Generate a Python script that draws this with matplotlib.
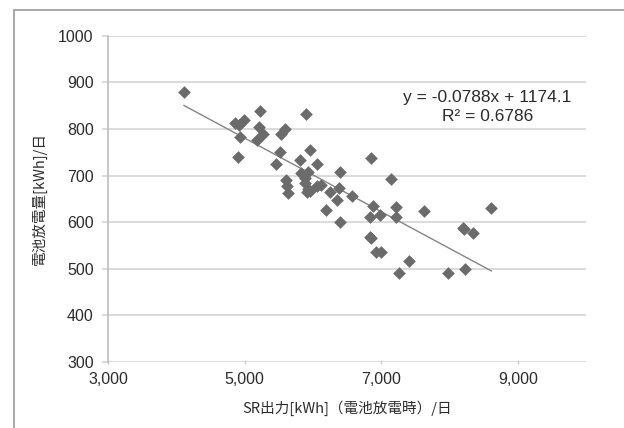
import matplotlib.pyplot as plt
import numpy as np
from matplotlib.patches import Rectangle

# SR output (kWh/day, during battery discharge) vs battery discharge (kWh/day)
sr_output = [
	4110, 4860, 4920, 4990, 4927, 4907,
	5220, 5209, 5268, 5180, 5537, 5585, 5512, 5453,
	5610, 5625, 5634, 5903, 5951, 5815, 6063,
	5829, 5878, 5926, 5878, 5926, 5912, 5960,
	6063, 6122, 6244, 6400, 6375, 6351, 6195, 6400,
	6576, 6843, 6877, 6839, 6975, 7146, 7219, 7209,
	6829, 6850, 6927, 7000, 7253, 7411, 7633, 7983,
	8199, 8210, 8234, 8345, 8614,
]
discharge = [
	880, 813, 808, 820, 783, 740,
	838, 805, 790, 776, 790, 799, 751, 725,
	690, 677, 663, 833, 755, 733, 724,
	705, 694, 708, 683, 672, 665, 667,
	677, 680, 665, 708, 673, 647, 626, 601,
	656, 738, 635, 612, 615, 692, 632, 612,
	569, 566, 537, 537, 491, 516, 624, 490,
	588, 585, 500, 576, 631,
]
slope = -0.0788
intercept = 1174.1
r_squared = 0.6786

x_ticks = [3000, 5000, 7000, 9000]
y_ticks = [300, 400, 500, 600, 700, 800, 900, 1000]

jp_font = ["Noto Sans CJK JP", "DejaVu Sans"]
num_font = ["Liberation Sans", "DejaVu Sans"]
text_color = "#2b2b2b"

fig = plt.figure(figsize=(6.24, 4.28), dpi=100)
fig.patch.set_facecolor("white")
ax = fig.add_axes([0.1736, 0.1542, 0.7654, 0.7624])

ax.scatter(sr_output, discharge, marker="D", s=42, color="#6b6b6b", linewidths=0, zorder=3)

x_fit = np.array([min(sr_output), max(sr_output)])
ax.plot(x_fit, slope * x_fit + intercept, color="#858585", linewidth=1.0, zorder=2)

ax.text(
	8555, 847,
	f"y = {slope}x + {intercept}\nR² = {r_squared}",
	ha="center", va="center", multialignment="center",
	fontsize=12.5, family=num_font, color=text_color, linespacing=1.4,
)

ax.set_xlim(3000, 10000)
ax.set_ylim(300, 1000)
ax.set_xticks(x_ticks)
ax.set_xticklabels([f"{v:,}" for v in x_ticks])
ax.set_yticks(y_ticks)
ax.grid(axis="y", color="#d4d4d4", linewidth=1.2)
ax.set_axisbelow(True)

for side in ["top", "right", "bottom"]:
	ax.spines[side].set_visible(False)
ax.spines["left"].set_color("#bdbdbd")
ax.spines["left"].set_linewidth(1.2)

ax.tick_params(axis="y", length=4.5, width=1.2, color="#d4d4d4", pad=6, labelsize=11.5, labelcolor=text_color)
ax.tick_params(axis="x", length=3, width=1.0, color="#c8c8c8", direction="inout", pad=6, labelsize=11.5, labelcolor=text_color)
for lab in ax.get_xticklabels() + ax.get_yticklabels():
	lab.set_family(num_font)

ax.set_xlabel("SR出力[kWh]（電池放電時）/日", family=jp_font, fontsize=10.5, color=text_color, labelpad=9)
ax.set_ylabel("電池放電量[kWh]/日", family=jp_font, fontsize=10.5, color=text_color, labelpad=8)

fig.patches.append(Rectangle((14 / 624, -0.05), 1.1, 1 - 10 / 428 + 0.05, transform=fig.transFigure,
	fill=False, edgecolor="#9a9a9a", linewidth=1.2))

fig.savefig("out.png", dpi=100)
